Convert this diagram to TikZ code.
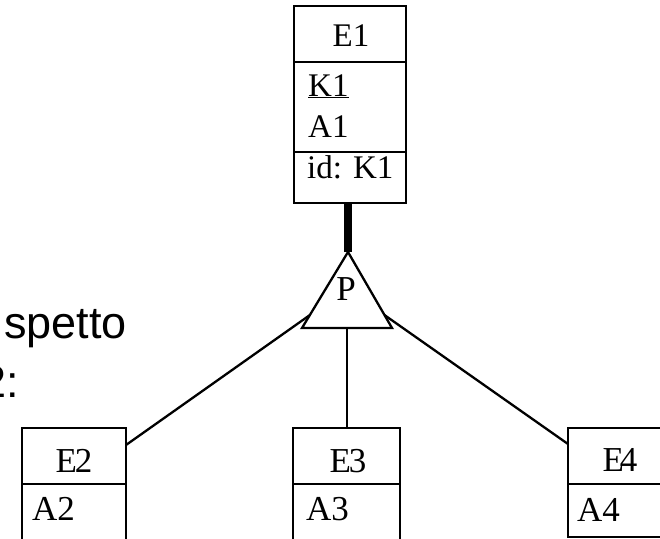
\documentclass[tikz,border=0pt]{standalone}
\usepackage{fontspec}
\setmainfont{Liberation Serif}
\newfontfamily\arialf{Liberation Sans}
\usetikzlibrary{calc}
\begin{document}
\begin{tikzpicture}[x=1pt,y=-1pt,
  ent/.style={draw, line width=2.4pt, inner sep=0pt, outer sep=0pt},
  sep/.style={line width=2.4pt},
  conn/.style={line width=2.3pt},
  etop/.style={font=\fontsize{33}{38}\selectfont, anchor=base, inner sep=0pt},
  eattr/.style={font=\fontsize{33}{38}\selectfont, anchor=base west, inner sep=0pt},
  btop/.style={font=\fontsize{35}{40}\selectfont, anchor=base, inner sep=0pt},
  battr/.style={font=\fontsize{35}{40}\selectfont, anchor=base west, inner sep=0pt},
  sidetxt/.style={font=\arialf\fontsize{45}{52}\selectfont, anchor=base west, inner sep=0pt}]
\useasboundingbox (0,0) rectangle (660,538);
\clip (0,0) rectangle (660,538);
\fill[white] (0,0) rectangle (660,538);

% side text (cut off at the left)
\node[sidetxt] (t1) at (4,338) {spetto};
\node[sidetxt] (t2) at (-19,397) {2:};

% E1
\node[ent, minimum width=112pt, minimum height=197pt] (E1) at (350,104.5) {};
\draw[sep] (E1.west |- 0,62) -- (E1.east |- 0,62);
\draw[sep] (E1.west |- 0,152) -- (E1.east |- 0,152);
\node[etop] (E1t) at (351,46) {E1};
\node[eattr] (K1) at (308,96) {\underline{K1}};
\node[eattr] (A1) at (308,137) {A1};
\node[eattr] (id1) at (307,178) {id: K1};

% P triangle
\coordinate (Pa) at (348,252);
\coordinate (Pl) at (302,328);
\coordinate (Pr) at (392,328);
\coordinate (Pb) at ($(Pl)!0.5!(Pr)$);
\draw[conn, line join=miter] (Pa) -- (Pl) -- (Pr) -- cycle;
\node[etop, font=\fontsize{35}{40}\selectfont] (P) at (346,300) {P};
\draw[line width=8pt] (Pa |- E1.south) -- (Pa);

% E2
\node[ent, minimum width=104pt, minimum height=152pt] (E2) at (74,504) {};
\draw[sep] (E2.west |- 0,484) -- (E2.east |- 0,484);
\node[btop] (E2t) at (74,472) {E\kern-2pt 2};
\node[battr] (A2) at (32,520) {A2};

% E3
\node[ent, minimum width=107pt, minimum height=152pt] (E3) at (346.5,504) {};
\draw[sep] (E3.west |- 0,484) -- (E3.east |- 0,484);
\node[btop] (E3t) at (348,472) {E\kern-2pt 3};
\node[battr] (A3) at (306,520) {A3};

% E4
\node[ent, minimum width=104pt, minimum height=109pt] (E4) at (620,482.5) {};
\draw[sep] (E4.west |- 0,484) -- (E4.east |- 0,484);
\node[btop] (E4t) at (620,471) {E\kern-4pt 4};
\node[battr] (A4) at (577,521) {A4};

% connectors
\coordinate (PL) at ($(Pa)!0.83!(Pl)$);
\coordinate (PR) at ($(Pa)!0.83!(Pr)$);
\coordinate (E2c) at ($(E2.north east)+(0,17)$);
\coordinate (E4c) at ($(E4.north west)+(0,16)$);
\draw[conn] (PL) -- (E2c);
\draw[conn] (PR) -- (E4c);
\draw[conn] (Pb) -- (Pb |- E3.north);
\end{tikzpicture}
\end{document}
